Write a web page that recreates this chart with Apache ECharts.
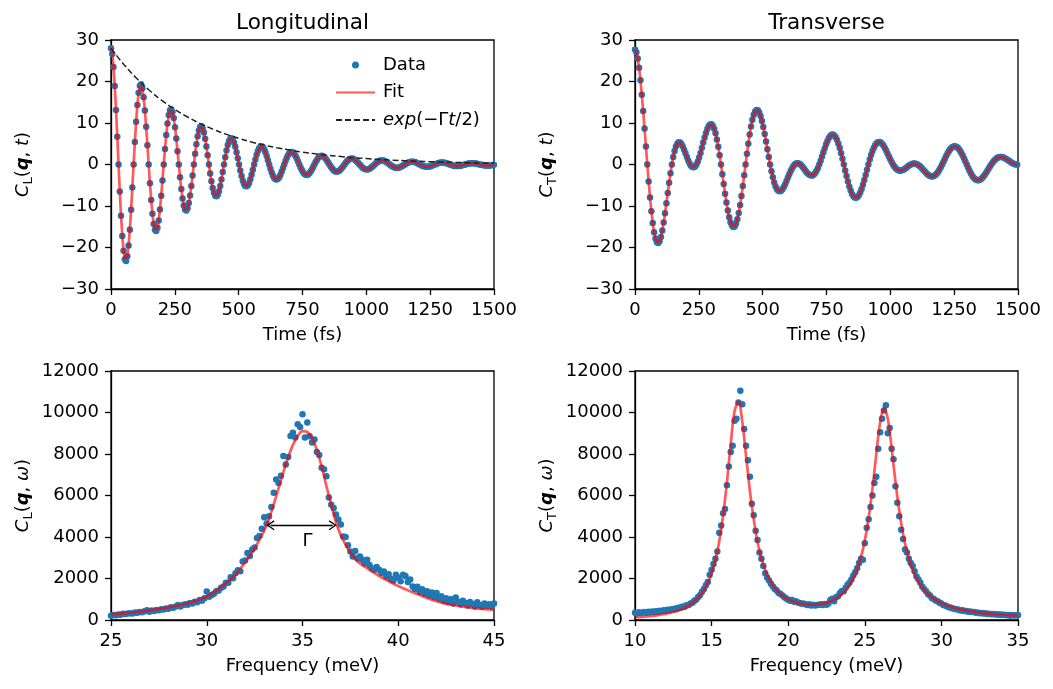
<!DOCTYPE html>
<html><head><meta charset="utf-8">
<script src="https://cdn.jsdelivr.net/npm/echarts@6/dist/echarts.min.js"></script>
<style>html,body{margin:0;padding:0;background:#fff}#c{width:1053px;height:689px}</style>
</head><body><div id="c"></div>
<script>
const FONT = 'DejaVu Sans';

// ---------------- tick labels ----------------
const timeTicks = [0, 250, 500, 750, 1000, 1250, 1500];
const corrTicks = [-30, -20, -10, 0, 10, 20, 30];
const longFreqTicks = [25, 30, 35, 40, 45];
const transFreqTicks = [10, 15, 20, 25, 30, 35];
const specTicks = [0, 2000, 4000, 6000, 8000, 10000, 12000];

// ---------------- time domain (sampling step in fs) ----------------
const longTimeStep = 4.9167;
const longTimeValues = [
28.00,26.63,23.51,18.90,13.16,6.71,0,-6.50,-12.37,-17.23,-20.77,-22.82,-23.26,-22.12,-19.53,-15.70,-10.93,-5.57,0,5.40,10.28,14.31,17.26,18.95,
19.32,18.38,16.22,13.04,9.08,4.63,0,-4.49,-8.54,-11.89,-14.33,-15.74,-16.05,-15.26,-13.47,-10.83,-7.54,-3.84,0,3.73,7.09,9.87,11.91,13.08,
13.33,12.68,11.19,9.00,6.27,3.19,0,-3.10,-5.89,-8.20,-9.89,-10.86,-11.07,-10.53,-9.30,-7.48,-5.20,-2.65,0,2.57,4.89,6.81,8.22,9.02,
9.20,8.75,7.72,6.21,4.32,2.20,0,-2.14,-4.06,-5.66,-6.82,-7.50,-7.64,-7.27,-6.42,-5.16,-3.59,-1.83,0,1.77,3.38,4.70,5.67,6.23,
6.35,6.04,5.33,4.28,2.98,1.52,0,-1.47,-2.80,-3.90,-4.71,-5.17,-5.27,-5.01,-4.43,-3.56,-2.48,-1.26,0,1.22,2.33,3.24,3.91,4.30,
4.38,4.16,3.68,2.96,2.06,1.05,0,-1.02,-1.93,-2.69,-3.25,-3.57,-3.64,-3.46,-3.05,-2.46,-1.71,-0.87,0,0.84,1.61,2.24,2.70,2.96,
3.02,2.87,2.54,2.04,1.42,0.72,0,-0.70,-1.34,-1.86,-2.24,-2.46,-2.51,-2.39,-2.11,-1.69,-1.18,-0.60,0,0.58,1.11,1.54,1.86,2.05,
2.09,1.98,1.75,1.41,0.98,0.50,0,-0.48,-0.92,-1.28,-1.55,-1.70,-1.73,-1.65,-1.45,-1.17,-0.81,-0.41,0,0.40,0.77,1.07,1.29,1.41,
1.44,1.37,1.21,0.97,0.68,0.34,0,-0.33,-0.64,-0.89,-1.07,-1.17,-1.20,-1.14,-1.00,-0.81,-0.56,-0.29,0,0.28,0.53,0.74,0.89,0.97,
0.99,0.94,0.83,0.67,0.47,0.24,0,-0.23,-0.44,-0.61,-0.74,-0.81,-0.82,-0.78,-0.69,-0.56,-0.39,-0.20,0,0.19,0.36,0.51,0.61,0.67,
0.69,0.65,0.58,0.46,0.32,0.16,0,-0.16,-0.30,-0.42,-0.51,-0.56,-0.57,-0.54,-0.48,-0.38,-0.27,-0.14,0,0.13,0.25,0.35,0.42,0.46,
0.47,0.45,0.40,0.32,0.22,0.11,0,-0.11,-0.21,-0.29,-0.35,-0.39,-0.39,-0.37,-0.33,-0.27,-0.18,-0.09,0,0.09,0.17,0.24,0.29,0.32,
0.33,0.31,0.27,0.22,0.15,0.08,0,-0.08,-0.14,-0.20,-0.24,-0.27,-0.27,-0.26,-0.23,-0.18,-0.13,-0.06
];
const transTimeStep = 5.3458;
const transTimeValues = [
27.70,27.05,25.56,23.29,20.33,16.82,12.87,8.65,4.31,0,-4.12,-7.93,-11.29,-14.11,-16.31,-17.86,-18.72,-18.91,-18.47,-17.45,-15.93,-14.00,-11.77,-9.35,-6.87,-4.41,-2.10,0,1.80,3.26,4.33,5.02,5.34,5.29,4.95,4.36,
3.58,2.71,1.82,0.97,0.25,-0.30,-0.62,-0.69,-0.48,0,0.73,1.68,2.79,4.02,5.28,6.51,7.62,8.56,9.25,9.63,9.67,9.34,8.61,7.51,6.05,4.27,2.23,0,-2.34,-4.71,-7.02,-9.17,-11.09,-12.70,-13.93,-14.72,
-15.05,-14.91,-14.27,-13.18,-11.67,-9.78,-7.59,-5.17,-2.61,0,2.57,5.01,7.24,9.18,10.78,11.99,12.78,13.13,13.05,12.56,11.69,10.49,9.02,7.34,5.53,3.65,1.78,0,-1.65,-3.10,-4.32,-5.28,-5.95,-6.34,-6.46,-6.33,
-5.97,-5.43,-4.75,-3.97,-3.16,-2.36,-1.61,-0.94,-0.40,0,0.24,0.33,0.26,0.06,-0.26,-0.65,-1.09,-1.54,-1.96,-2.31,-2.55,-2.67,-2.63,-2.43,-2.06,-1.52,-0.82,0,0.93,1.92,2.93,3.93,4.86,5.69,6.36,6.86,
7.14,7.20,7.01,6.58,5.91,5.03,3.96,2.74,1.40,0,-1.42,-2.80,-4.11,-5.28,-6.29,-7.09,-7.65,-7.97,-8.04,-7.85,-7.41,-6.74,-5.89,-4.86,-3.72,-2.50,-1.24,0,1.19,2.28,3.25,4.06,4.69,5.13,5.37,5.42,
5.29,4.99,4.55,4.00,3.36,2.66,1.95,1.25,0.59,0,-0.51,-0.92,-1.21,-1.40,-1.48,-1.46,-1.35,-1.18,-0.95,-0.70,-0.44,-0.20,0.00,0.14,0.22,0.23,0.15,0,-0.23,-0.51,-0.85,-1.22,-1.59,-1.95,-2.28,-2.55,
-2.75,-2.86,-2.87,-2.76,-2.54,-2.22,-1.78,-1.26,-0.66,0,0.69,1.38,2.06,2.69,3.24,3.71,4.07,4.29,4.39,4.34,4.16,3.84,3.39,2.84,2.21,1.50,0.76,0,-0.74,-1.45,-2.10,-2.66,-3.12,-3.47,-3.69,-3.79,
-3.77,-3.62,-3.37,-3.02,-2.60,-2.11,-1.59,-1.05,-0.51,0,0.47,0.89,1.23,1.50,1.69,1.80,1.83,1.79,1.69,1.53,1.33,1.11,0.88,0.65,0.44,0.26,0.11,0,-0.06
];
// exp(-Γt/2) envelope
const envTimes = [0,50,100,150,200,250,300,350,400,450,500,550,600,650,700,750,800,850,900,950,1000,1050,1100,1150,1200,1250,1300,1350,1400,1450,1500];
const envValues = [28.00,24.12,20.77,17.89,15.41,13.28,11.44,9.85,8.48,7.31,6.29,5.42,4.67,4.02,3.47,2.98,2.57,2.21,1.91,1.64,1.42,1.22,1.05,0.90,0.78,0.67,0.58,0.50,0.43,0.37,0.32];

// ---------------- frequency domain ----------------
const longFreqStart = 25, longFreqStep = 0.125;
const longSpecValues = [
210,245,230,270,255,300,285,310,330,315,360,345,390,370,420,465,400,455,430,480,470,520,505,560,540,610,590,650,720,650,720,760,740,820,790,880,860,960,930,1050,
1370,1120,1210,1260,1380,1420,1560,1620,1790,1800,2060,2010,2250,2400,2350,2820,2870,3230,3080,3400,3500,3950,4050,4400,4950,4650,5000,5450,6130,6770,6600,6950,7900,7500,7850,8870,9030,8800,9430,9300,
9920,8790,9520,8850,8550,8700,8100,7950,7340,7260,6930,5900,5560,5400,5080,4840,4600,4030,4000,3600,3300,3060,3330,2960,3060,2900,2740,2900,2650,2500,2420,2560,2420,2260,2340,2100,2200,1970,1900,2180,
2050,1870,2180,2120,1830,1950,1620,1500,1600,1350,1480,1260,1380,1180,1320,1100,1300,1020,1150,920,1050,860,1000,800,1080,880,760,930,820,700,870,760,650,860,720,640,800,680,760,650,
800
];
const longFitEnergies = [25,25.5,26,26.5,27,27.5,28,28.5,29,29.5,30,30.5,31,31.5,31.75,32,32.25,32.5,32.75,33,33.25,33.5,33.75,34,34.25,34.5,34.75,35,35.25,35.5,35.75,36,36.25,36.5,36.75,37,37.25,37.5,37.75,38,38.5,39,39.5,40,40.5,41,41.5,42,42.5,43,43.5,44,44.5,45];
const longFitValues = [275,310,350,395,460,530,610,700,810,940,1120,1410,1760,2190,2470,2780,3100,3460,3860,4300,4880,5580,6350,7130,7840,8440,8870,9100,9060,8760,8200,7400,6450,5560,4700,4080,3640,3250,2960,2720,2420,2120,1870,1640,1430,1250,1060,900,790,700,630,570,520,484];
// Γ annotation (arrow ends placed so the arrow tips sit on the half-maximum points)
const gammaArrow = { left: 33.33, right: 36.58, level: 4563, labelE: 35.26, labelV: 3790 };

const transFreqStart = 10, transFreqStep = 0.125;
const transSpecValues = [
350,330,370,340,360,385,350,395,370,410,385,420,400,440,425,465,450,490,470,520,510,560,545,600,590,650,640,710,720,800,830,930,990,1110,1200,1360,1500,1680,1830,2180,
2420,2700,2950,3300,4200,4550,5150,5350,6500,7400,8100,8400,9600,9700,10480,11050,10400,9200,8400,7700,6900,5600,5050,4300,3850,3250,2950,2600,2250,2050,1900,1750,1610,1500,1420,1300,1250,1180,1100,1040,
980,930,960,880,900,840,820,780,800,760,720,760,700,740,700,720,730,760,720,770,730,800,960,1020,900,1100,1150,1290,1400,1380,1560,1700,1800,1950,2150,2300,2500,2750,2950,2900,
3700,4450,4850,5450,6000,6600,6900,8250,9050,9700,10100,10350,9000,9250,8250,7750,6450,5650,5000,4350,3900,3400,3250,2950,2750,2600,2350,2100,1950,1800,1600,1500,1380,1250,1180,1060,1010,940,900,830,
800,720,700,650,620,590,560,530,520,490,460,470,430,430,400,410,380,390,350,360,330,340,310,320,290,300,280,290,260,280,250,260,240,250,230,240,210,240,220,230,
240
];
const transFitEnergies = [10,10.25,10.5,10.75,11,11.25,11.5,11.75,12,12.25,12.5,12.75,13,13.25,13.5,13.75,14,14.25,14.5,14.75,15,15.25,15.5,15.75,16,16.25,16.5,16.75,17,17.25,17.5,17.75,18,18.25,18.5,18.75,19,19.25,19.5,19.75,20,20.25,20.5,20.75,21,21.25,21.5,21.75,22,22.25,22.5,22.75,23,23.25,23.5,23.75,24,24.25,24.5,24.75,25,25.25,25.5,25.75,26,26.25,26.5,26.75,27,27.25,27.5,27.75,28,28.25,28.5,28.75,29,29.25,29.5,29.75,30,30.5,31,31.5,32,32.5,33,33.5,34,34.5,35];
const transFitValues = [123,137,151,168,187,210,235,264,298,338,385,441,508,590,690,815,973,1174,1436,1786,2255,2900,3794,5023,6635,8505,10070,10514,9576,7904,6223,4848,3750,2980,2410,1990,1670,1430,1245,1105,995,915,850,805,770,750,742,745,760,790,835,900,985,1100,1250,1440,1690,2015,2446,3032,3831,4916,6329,7992,9515,10222,9698,8294,6675,5254,4136,3304,2677,2206,1846,1568,1349,1172,1031,914,818,667,557,474,410,359,318,284,256,233,212];

// ---------------- build ----------------
const pairs = (vals, start, step) => vals.map((v, i) => [start + i * step, v]);
const zip = (xs, ys) => xs.map((x, i) => [x, ys[i]]);
const fromTicks = t => ({ min: t[0], max: t[t.length - 1], interval: t[1] - t[0] });
const minus = v => String(v).replace('-', '\u2212');

const BLUE = '#1f77b4';
const grids = [
  { left: 111, top: 40, width: 383, height: 249 },
  { left: 635, top: 40, width: 383, height: 249 },
  { left: 111, top: 371, width: 383, height: 249 },
  { left: 635, top: 371, width: 383, height: 249 }
].map(g => Object.assign(g, { show: true, borderColor: '#000', borderWidth: 1.3, backgroundColor: 'rgba(0,0,0,0)', containLabel: false, outerBoundsMode: 'none' }));

const nameRich = {
  i: { fontFamily: FONT, fontStyle: 'italic', fontSize: 18, lineHeight: 24, verticalAlign: 'middle', color: '#000' },
  n: { fontFamily: FONT, fontSize: 18, lineHeight: 24, verticalAlign: 'middle', color: '#000' },
  b: { fontFamily: FONT, fontStyle: 'italic', fontWeight: 'bold', fontSize: 18, lineHeight: 24, verticalAlign: 'middle', color: '#000' },
  s: { fontFamily: FONT, fontSize: 13, lineHeight: 13, verticalAlign: 'bottom', color: '#000' }
};

function xAxis(idx, ticks, name) {
  return Object.assign({
    type: 'value', gridIndex: idx, name: name, nameLocation: 'middle', nameGap: 37,
    nameTextStyle: { fontFamily: FONT, fontSize: 18, color: '#000' },
    axisLine: { show: true, onZero: false, lineStyle: { color: '#000', width: 1.3 } },
    axisTick: { show: true, inside: false, length: 6, lineStyle: { color: '#000', width: 1.3 } },
    axisLabel: { fontFamily: FONT, fontSize: 18, color: '#000', margin: 12, formatter: minus },
    splitLine: { show: false }
  }, fromTicks(ticks));
}
function yAxis(idx, ticks, name) {
  return Object.assign({
    type: 'value', gridIndex: idx, name: name, nameLocation: 'middle', nameGap: 76, nameRotate: 90,
    nameTextStyle: { fontFamily: FONT, fontSize: 18, color: '#000', rich: nameRich },
    axisLine: { show: true, onZero: false, lineStyle: { color: '#000', width: 1.3 } },
    axisTick: { show: true, inside: false, length: 6, lineStyle: { color: '#000', width: 1.3 } },
    axisLabel: { fontFamily: FONT, fontSize: 18, color: '#000', margin: 12, formatter: minus },
    splitLine: { show: false }
  }, fromTicks(ticks));
}

const dataSeries = (idx, data) => ({
  name: 'Data', type: 'scatter', xAxisIndex: idx, yAxisIndex: idx, data: data,
  symbol: 'circle', symbolSize: 6.5, itemStyle: { color: BLUE, opacity: 1 }, z: 2, silent: true
});
const fitSeries = (idx, data, smooth) => ({
  name: 'Fit', type: 'line', xAxisIndex: idx, yAxisIndex: idx, data: data, smooth: smooth,
  showSymbol: false, symbol: 'none', itemStyle: { color: 'red' },
  lineStyle: { color: 'red', width: 2.7, opacity: 0.65 }, z: 3, silent: true
});

const arrowHead = 'path://M5,0 L10,8.4 L8.9,9.2 L5,2.6 L1.1,9.2 L0,8.4 Z';
const ENV_NAME = 'exp(\u2212\u0393t/2)';

const blFit = fitSeries(2, zip(longFitEnergies, longFitValues), 0.35);
blFit.markLine = {
  silent: true, animation: false, symbol: [arrowHead, arrowHead], symbolSize: [10, 8],
  lineStyle: { color: '#000', width: 1.4, type: 'solid', opacity: 1 },
  itemStyle: { color: '#000' }, label: { show: false },
  data: [[{ coord: [gammaArrow.left, gammaArrow.level] }, { coord: [gammaArrow.right, gammaArrow.level] }]]
};
blFit.markPoint = {
  silent: true, animation: false, symbol: 'circle', symbolSize: 1,
  itemStyle: { color: 'rgba(0,0,0,0)' },
  label: { show: true, position: 'inside', formatter: '\u0393', color: '#000', fontFamily: FONT, fontSize: 18 },
  data: [{ coord: [gammaArrow.labelE, gammaArrow.labelV] }]
};

const hiddenSymbol = { color: 'rgba(0,0,0,0)', borderWidth: 0, opacity: 0 };

const option = {
  animation: false,
  textStyle: { fontFamily: FONT },
  grid: grids,
  xAxis: [
    xAxis(0, timeTicks, 'Time (fs)'),
    xAxis(1, timeTicks, 'Time (fs)'),
    xAxis(2, longFreqTicks, 'Frequency (meV)'),
    xAxis(3, transFreqTicks, 'Frequency (meV)')
  ],
  yAxis: [
    yAxis(0, corrTicks, '{i|C}{s|L}{n|(}{b|q}{n|, }{i|t}{n|)}'),
    yAxis(1, corrTicks, '{i|C}{s|T}{n|(}{b|q}{n|, }{i|t}{n|)}'),
    yAxis(2, specTicks, '{i|C}{s|L}{n|(}{b|q}{n|, }{i|\u03c9}{n|)}'),
    yAxis(3, specTicks, '{i|C}{s|T}{n|(}{b|q}{n|, }{i|\u03c9}{n|)}')
  ],
  legend: {
    left: 330, top: 50, orient: 'vertical', selectedMode: false,
    itemWidth: 39, itemHeight: 7, itemGap: 7.5,
    textStyle: {
      fontFamily: FONT, fontSize: 18, color: '#000', lineHeight: 20, padding: [0, 0, 0, 3],
      rich: {
        i: { fontFamily: FONT, fontStyle: 'italic', fontSize: 18, color: '#000' },
        n: { fontFamily: FONT, fontSize: 18, color: '#000' }
      }
    },
    formatter: name => name === ENV_NAME ? '{i|exp}{n|(\u2212\u0393}{i|t}{n|/2)}' : name,
    data: [
      { name: 'Data', icon: 'circle' },
      { name: 'Fit', itemStyle: hiddenSymbol },
      { name: ENV_NAME, itemStyle: hiddenSymbol }
    ]
  },
  graphic: [
    { type: 'text', x: 302.5, y: 23, style: { text: 'Longitudinal', fontFamily: FONT, fontSize: 21.6, fill: '#000', align: 'center', verticalAlign: 'middle' } },
    { type: 'text', x: 826.5, y: 23, style: { text: 'Transverse', fontFamily: FONT, fontSize: 21.6, fill: '#000', align: 'center', verticalAlign: 'middle' } }
  ],
  series: [
    dataSeries(0, pairs(longTimeValues, 0, longTimeStep)),
    fitSeries(0, pairs(longTimeValues, 0, longTimeStep), false),
    {
      name: ENV_NAME, type: 'line', xAxisIndex: 0, yAxisIndex: 0, data: zip(envTimes, envValues), smooth: 0.4,
      showSymbol: false, symbol: 'none', itemStyle: { color: '#222' },
      lineStyle: { color: '#222', width: 1.5, type: [6, 3] }, z: 4, silent: true
    },
    dataSeries(1, pairs(transTimeValues, 0, transTimeStep)),
    fitSeries(1, pairs(transTimeValues, 0, transTimeStep), false),
    dataSeries(2, pairs(longSpecValues, longFreqStart, longFreqStep)),
    blFit,
    dataSeries(3, pairs(transSpecValues, transFreqStart, transFreqStep)),
    fitSeries(3, zip(transFitEnergies, transFitValues), 0.35)
  ]
};

const chart = echarts.init(document.getElementById('c'), null, { renderer: 'canvas' });
chart.setOption(option);
</script></body></html>
